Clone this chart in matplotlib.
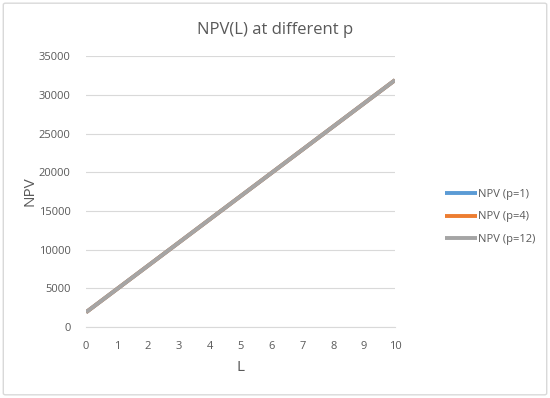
import matplotlib
matplotlib.use("Agg")
import matplotlib.pyplot as plt
from matplotlib.patches import FancyBboxPatch

plt.rcParams['font.family'] = ['Open Sans', 'DejaVu Sans']

L = [0, 1, 2, 3, 4, 5, 6, 7, 8, 9, 10]
npv_p1 = [1900, 4900, 7900, 10900, 13900, 16900, 19900, 22900, 25900, 28900, 31900]
npv_p4 = [1900, 4900, 7900, 10900, 13900, 16900, 19900, 22900, 25900, 28900, 31900]
npv_p12 = [1900, 4900, 7900, 10900, 13900, 16900, 19900, 22900, 25900, 28900, 31900]
series_labels = ["NPV (p=1)", "NPV (p=4)", "NPV (p=12)"]
colors = ["#5B9BD5", "#ED7D31", "#A5A5A5"]
y_ticks = [0, 5000, 10000, 15000, 20000, 25000, 30000, 35000]

fig = plt.figure(figsize=(5.5, 3.98), dpi=100)
fig.patch.set_facecolor("white")
border = FancyBboxPatch((0.006, 0.008), 0.988, 0.984, boxstyle="round,pad=0,rounding_size=0.004",
                        transform=fig.transFigure, facecolor="none", edgecolor="#D9D9D9", lw=1.0,
                        zorder=-5)
fig.patches.append(border)

ax = fig.add_axes([0.1564, 0.1784, 0.5618, 0.6806])
ax.patch.set_alpha(0)
for vals, lab, c in zip([npv_p1, npv_p4, npv_p12], series_labels, colors):
    ax.plot(L, vals, color=c, lw=2.8, label=lab, solid_capstyle="butt")

ax.set_xlim(0, 10)
ax.set_ylim(0, 35000)
ax.set_xticks(L)
ax.set_yticks(y_ticks)
ax.grid(axis="y", color="#D9D9D9", lw=0.8)
ax.set_axisbelow(True)
for s in ax.spines.values():
    s.set_visible(False)
ax.spines["bottom"].set_visible(True)
ax.spines["bottom"].set_color("#D9D9D9")
ax.tick_params(length=0, colors="#595959", labelsize=8)
ax.tick_params(axis="x", pad=10)
ax.tick_params(axis="y", pad=11)
ax.set_xlabel("L", color="#595959", fontsize=11, labelpad=6)
ax.set_ylabel("NPV", color="#595959", fontsize=11)
ax.yaxis.set_label_coords(-0.158, 0.5)
fig.text(0.5, 0.925, "NPV(L) at different p", ha="center", va="center", color="#595959", fontsize=12)

leg = fig.legend(loc="center left", bbox_to_anchor=(0.79, 0.455), frameon=False,
                 fontsize=8, labelcolor="#595959", handlelength=2.9, handletextpad=0.1,
                 labelspacing=1.05)
fig.savefig("out.png", dpi=100, facecolor="white")
